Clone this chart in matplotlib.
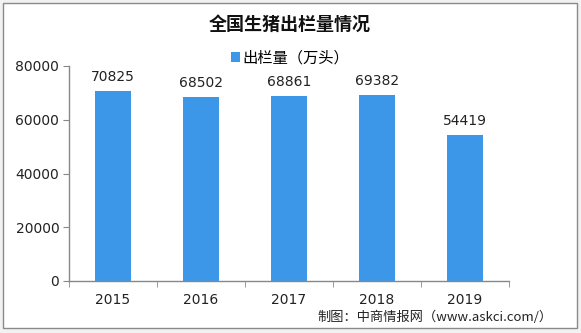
import matplotlib
matplotlib.use("Agg")
import matplotlib.pyplot as plt
from matplotlib.patches import Rectangle

plt.rcParams['font.family'] = ['Noto Sans CJK SC', 'DejaVu Sans']

years = ["2015", "2016", "2017", "2018", "2019"]
values = [70825, 68502, 68861, 69382, 54419]
yticks = [0, 20000, 40000, 60000, 80000]

bar_color = "#3d97e8"
axis_color = "#888888"

fig = plt.figure(figsize=(5.81, 3.33), dpi=100)
fig.patch.set_facecolor("#f2f2f2")
fig.patches.append(Rectangle((3/581, 1-328/333), 574/581, 325/333, transform=fig.transFigure,
                             facecolor="white", edgecolor="#8a8a8a", linewidth=1, zorder=-1))

ax = fig.add_axes([69/581, 1-281/333, 440/581, 215/333])
ax.set_facecolor("none")
x = list(range(len(years)))
bars = ax.bar(x, values, width=0.4, color=bar_color, label="出栏量（万头）", zorder=2)
for xi, v in zip(x, values):
    ax.text(xi, v + 2500, str(v), ha="center", va="bottom", fontsize=10, family="DejaVu Sans", color="#222222")

ax.set_xlim(-0.5, len(years) - 0.5)
ax.set_ylim(0, 80000)
ax.set_yticks(yticks)
ax.set_yticklabels([str(t) for t in yticks], fontsize=10, family="DejaVu Sans", color="#222222")
ax.set_xticks(x)
ax.set_xticklabels(years, fontsize=10, family="DejaVu Sans", color="#222222")
ax.set_xticks([i - 0.5 for i in range(len(years) + 1)], minor=True)
ax.tick_params(axis="x", which="major", length=0, pad=9)
ax.tick_params(axis="x", which="minor", length=4, color=axis_color, direction="out")
ax.tick_params(axis="y", length=4, color=axis_color, direction="out", pad=3)
for s in ["top", "right"]:
    ax.spines[s].set_visible(False)
for s in ["left", "bottom"]:
    ax.spines[s].set_color(axis_color)
    ax.spines[s].set_linewidth(1)

fig.text(290/581, 1-24/333, "全国生猪出栏量情况", ha="center", va="center", fontsize=13, fontweight="bold", color="#111111")
leg = fig.legend(handles=[bars], labels=["出栏量（万头）"], loc="center", bbox_to_anchor=(290/581, 1-58/333),
                 frameon=False, fontsize=11, handlelength=0.6, handleheight=0.6, handletextpad=0.2)
fig.text(553/581, 1-317/333, "制图：中商情报网（www.askci.com/）", ha="right", va="center", fontsize=9.5, color="#222222")

fig.savefig("out.png", dpi=100)
